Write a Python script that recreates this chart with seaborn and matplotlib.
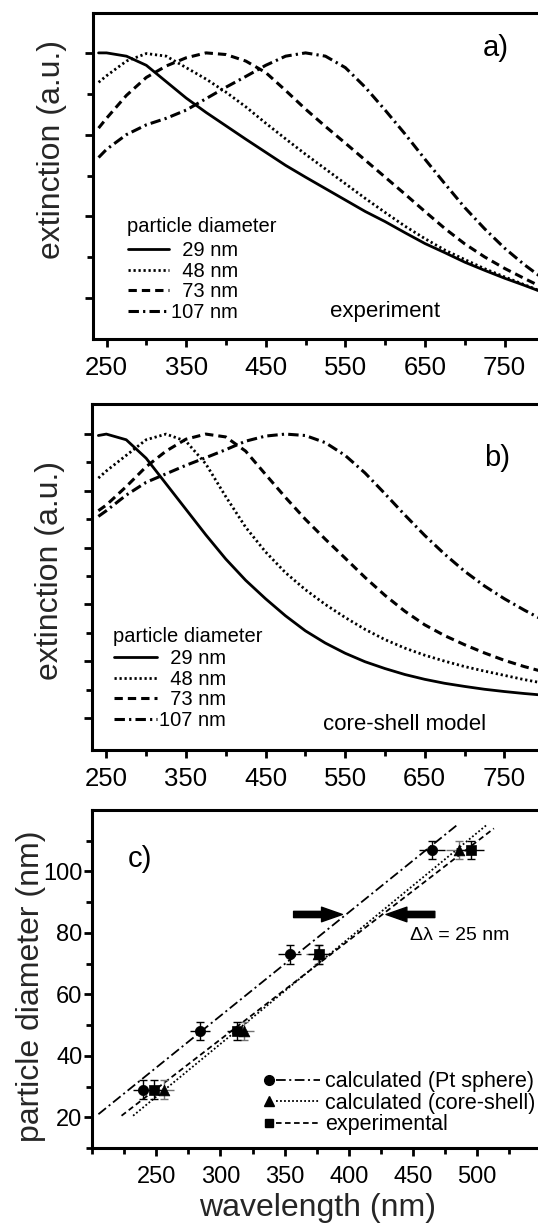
import matplotlib
matplotlib.use("Agg")
import matplotlib.pyplot as plt
import seaborn as sns
from matplotlib.ticker import FixedLocator, NullFormatter
from matplotlib.legend_handler import HandlerBase
from matplotlib.lines import Line2D

# ---------------- data ----------------
wavelength = [240, 250, 275, 300, 325, 350, 375, 400, 425, 450, 475, 500, 525,
              550, 575, 600, 625, 650, 675, 700, 725, 750, 775, 800, 825, 850]

diam_labels = ["  29 nm", "  48 nm", "  73 nm", "107 nm"]

# panel a: experiment (normalised extinction)
exp_29 = [1.0, 1.0, 0.99, 0.962, 0.912, 0.862, 0.818, 0.777, 0.736, 0.696, 0.656, 0.62, 0.585,
          0.55, 0.515, 0.484, 0.45, 0.417, 0.389, 0.36, 0.335, 0.311, 0.289, 0.266, 0.245, 0.225]
exp_48 = [0.91, 0.93, 0.975, 0.998, 0.99, 0.955, 0.92, 0.88, 0.835, 0.785, 0.737, 0.69, 0.645,
          0.60, 0.555, 0.512, 0.47, 0.432, 0.397, 0.368, 0.34, 0.315, 0.291, 0.267, 0.245, 0.225]
exp_73 = [0.77, 0.80, 0.87, 0.925, 0.96, 0.985, 1.0, 0.995, 0.975, 0.94, 0.885, 0.828, 0.775,
          0.724, 0.672, 0.62, 0.568, 0.515, 0.463, 0.416, 0.376, 0.341, 0.31, 0.28, 0.255, 0.23]
exp_107 = [0.68, 0.705, 0.75, 0.78, 0.80, 0.825, 0.86, 0.895, 0.928, 0.962, 0.99, 1.0, 0.99,
           0.955, 0.895, 0.825, 0.752, 0.675, 0.60, 0.527, 0.462, 0.403, 0.352, 0.307, 0.27, 0.24]

# panel b: core-shell model (normalised extinction)
cs_29 = [0.995, 1.0, 0.98, 0.915, 0.825, 0.735, 0.645, 0.56, 0.485, 0.42, 0.36, 0.307, 0.264,
         0.228, 0.198, 0.174, 0.153, 0.136, 0.122, 0.111, 0.101, 0.093, 0.086, 0.08, 0.075, 0.07]
cs_48 = [0.845, 0.87, 0.925, 0.98, 1.0, 0.975, 0.895, 0.78, 0.672, 0.585, 0.512, 0.452, 0.40,
         0.354, 0.312, 0.276, 0.246, 0.221, 0.2, 0.181, 0.165, 0.15, 0.135, 0.122, 0.11, 0.10]
cs_73 = [0.73, 0.75, 0.815, 0.885, 0.94, 0.982, 1.0, 0.99, 0.94, 0.858, 0.777, 0.70, 0.63,
         0.563, 0.495, 0.432, 0.376, 0.328, 0.29, 0.258, 0.229, 0.203, 0.181, 0.162, 0.145, 0.13]
cs_107 = [0.71, 0.73, 0.785, 0.83, 0.86, 0.89, 0.917, 0.945, 0.975, 0.993, 1.0, 0.995, 0.97,
          0.925, 0.863, 0.79, 0.715, 0.643, 0.577, 0.517, 0.465, 0.42, 0.38, 0.343, 0.31, 0.28]

# panel c: peak wavelength vs particle diameter
diameter = [29, 48, 73, 107]
peak_pt_sphere = [240, 284, 354, 465]
peak_core_shell = [256, 318, 376, 486]
peak_experiment = [248, 313, 377, 495]
err_wavelength = [8, 8, 9, 10]
err_diameter = [3, 3, 3, 3]

fit_pt_x = [205, 484]
fit_pt_y = [21, 115]
fit_cs_x = [232, 507]
fit_cs_y = [20.5, 115]
fit_exp_x = [223, 513]
fit_exp_y = [20.5, 114]

c_legend_labels = ["calculated (Pt sphere)", "calculated (core-shell)", "experimental"]

ab_xticks = [250, 350, 450, 550, 650, 750]
ab_xminor = [300, 400, 500, 600, 700, 800]
c_xticks = [250, 300, 350, 400, 450, 500]
c_yticks = [20, 40, 60, 80, 100]

# ---------------- style ----------------
sns.set_theme(style="ticks")
plt.rcParams["font.family"] = ["Liberation Sans", "DejaVu Sans"]
plt.rcParams["lines.scale_dashes"] = False
plt.rcParams["axes.linewidth"] = 2.2
plt.rcParams["axes.edgecolor"] = "black"
plt.rcParams["xtick.color"] = "black"
plt.rcParams["ytick.color"] = "black"
plt.rcParams["text.color"] = "black"

LS = ["-", (0, (1.6, 2.0)), (0, (6, 3.6)), (0, (7.5, 3, 1.6, 3))]
LW = [2.0, 2.0, 2.2, 2.2]

fig = plt.figure(figsize=(5.38, 12.28), dpi=100)
W, H = 538.0, 1228.0

ax_a = fig.add_axes([93 / W, 1 - 339 / H, (850 - 233) * 0.796 / W, 326 / H])
ax_b = fig.add_axes([92 / W, 1 - 750 / H, (850 - 232) * 0.796 / W, 346 / H])
ax_c = fig.add_axes([92 / W, 1 - 1148 / H, (560 - 200) * 1.284 / W, 338 / H])


def style_spectrum_axes(ax, xlim, ylim, yt_major, yt_minor):
    ax.set_xlim(*xlim)
    ax.set_ylim(*ylim)
    ax.xaxis.set_major_locator(FixedLocator(ab_xticks))
    ax.xaxis.set_minor_locator(FixedLocator(ab_xminor))
    ax.yaxis.set_major_locator(FixedLocator(yt_major))
    ax.yaxis.set_minor_locator(FixedLocator(yt_minor))
    ax.yaxis.set_major_formatter(NullFormatter())
    ax.tick_params(which="major", direction="out", length=6, width=2.0,
                   labelsize=18.5, pad=6)
    ax.tick_params(which="minor", direction="out", length=4, width=2.0)
    for s in ax.spines.values():
        s.set_linewidth(2.2)
    ax.set_xlabel("")
    ax.set_ylabel("extinction (a.u.)", fontsize=23)


def draw_spectra(ax, series):
    lines = []
    for vals, ls, lw in zip(series, LS, LW):
        sns.lineplot(x=wavelength, y=vals, ax=ax, color="black", linewidth=lw,
                     linestyle=ls, legend=False)
        lines.append(ax.lines[-1])
    return lines


LEG_KW = dict(loc="upper left", frameon=False, fontsize=14.5, handletextpad=0.1,
              labelspacing=0.08, borderpad=0, borderaxespad=0)

# ---------- panel a ----------
lines_a = draw_spectra(ax_a, [exp_29, exp_48, exp_73, exp_107])
style_spectrum_axes(ax_a, (233, 850), (0.125, 1.122),
                    [0.25, 0.5, 0.75, 1.0], [0.375, 0.625, 0.875])
ax_a.yaxis.set_label_coords(-0.053, 0.58)
ax_a.text(0.069, 0.344, "particle diameter", transform=ax_a.transAxes, fontsize=14.5,
          va="center")
ax_a.legend(lines_a, diam_labels, bbox_to_anchor=(0.071, 0.300), handlelength=2.05, **LEG_KW)
ax_a.text(0.793, 0.893, "a)", transform=ax_a.transAxes, fontsize=21, va="center")
ax_a.text(0.482, 0.083, "experiment", transform=ax_a.transAxes, fontsize=16, va="center")

# ---------- panel b ----------
lines_b = draw_spectra(ax_b, [cs_29, cs_48, cs_73, cs_107])
style_spectrum_axes(ax_b, (232, 850), (-0.113, 1.106),
                    [0.0, 0.2, 0.4, 0.6, 0.8, 1.0], [0.1, 0.3, 0.5, 0.7, 0.9])
ax_b.yaxis.set_label_coords(-0.055, 0.52)
ax_b.text(0.043, 0.329, "particle diameter", transform=ax_b.transAxes, fontsize=14.5,
          va="center")
ax_b.legend(lines_b, diam_labels, bbox_to_anchor=(0.045, 0.292), handlelength=2.15, **LEG_KW)
ax_b.text(0.797, 0.844, "b)", transform=ax_b.transAxes, fontsize=21, va="center")
ax_b.text(0.47, 0.075, "core-shell model", transform=ax_b.transAxes, fontsize=16,
          va="center")

# ---------- panel c ----------
fit_specs = [(fit_pt_x, fit_pt_y, (0, (7, 2.5, 1.5, 2.5))),
             (fit_cs_x, fit_cs_y, (0, (1.3, 1.6))),
             (fit_exp_x, fit_exp_y, (0, (4, 2.5)))]
fit_lines = []
for fx, fy, ls in fit_specs:
    sns.lineplot(x=fx, y=fy, ax=ax_c, color="black", linewidth=1.3, linestyle=ls,
                 legend=False)
    fit_lines.append(ax_c.lines[-1])

point_sets = [(peak_pt_sphere, "o", "black", 55),
              (peak_core_shell, "^", "0.45", 60),
              (peak_experiment, "s", "black", 45)]
for px, mk, ecol, size in point_sets:
    ax_c.errorbar(px, diameter, yerr=err_diameter, fmt="none", ecolor=ecol,
                  elinewidth=1.0, capsize=3, capthick=1.0, zorder=3)
    ax_c.errorbar(px, diameter, xerr=err_wavelength, fmt="none", ecolor=ecol,
                  elinewidth=1.0, capsize=0, zorder=3)
    sns.scatterplot(x=px, y=diameter, ax=ax_c, marker=mk, color="black", s=size,
                    edgecolor="black", linewidth=0.5, zorder=4, legend=False)

ax_c.set_xlim(200, 560)
ax_c.set_ylim(10, 120)
ax_c.xaxis.set_major_locator(FixedLocator(c_xticks))
ax_c.xaxis.set_minor_locator(FixedLocator([200, 225, 275, 325, 375, 425, 475, 525]))
ax_c.yaxis.set_major_locator(FixedLocator(c_yticks))
ax_c.yaxis.set_minor_locator(FixedLocator([10, 30, 50, 70, 90, 110]))
ax_c.tick_params(which="major", direction="out", length=6, width=2.0, labelsize=17)
ax_c.tick_params(axis="x", which="major", pad=7)
ax_c.tick_params(axis="y", which="major", pad=1)
ax_c.tick_params(which="minor", direction="out", length=4, width=2.0)
for s in ax_c.spines.values():
    s.set_linewidth(2.2)
ax_c.set_xlabel("wavelength (nm)", fontsize=23)
ax_c.set_ylabel("particle diameter (nm)", fontsize=23)
ax_c.xaxis.set_label_coords(0.489, -0.133)
ax_c.yaxis.set_label_coords(-0.1, 0.48)

ax_c.text(228, 104, "c)", fontsize=21, va="center")
ax_c.text(448, 79.0, "Δλ = 25 nm", fontsize=14, va="center")

arrow_y = 86
arrow_right = (357, 395)
arrow_left = (467, 429)
astyle = "simple,head_length=1.0,head_width=0.7,tail_width=0.3"
ax_c.annotate("", xy=(arrow_right[1], arrow_y), xytext=(arrow_right[0], arrow_y),
              arrowprops=dict(arrowstyle=astyle, color="black", mutation_scale=15,
                              shrinkA=0, shrinkB=0))
ax_c.annotate("", xy=(arrow_left[1], arrow_y), xytext=(arrow_left[0], arrow_y),
              arrowprops=dict(arrowstyle=astyle, color="black", mutation_scale=15,
                              shrinkA=0, shrinkB=0))


class MarkerThenLine(HandlerBase):
    def create_artists(self, legend, orig_handle, xdescent, ydescent, width, height,
                       fontsize, trans):
        mk, ln = orig_handle
        y = height / 2.0 - ydescent
        x0 = -xdescent
        m = Line2D([x0 + 0.08 * width], [y])
        m.update_from(mk)
        m.set_linestyle("none")
        l = Line2D([x0 + 0.22 * width, x0 + width], [y, y])
        l.update_from(ln)
        l.set_marker("None")
        m.set_transform(trans)
        l.set_transform(trans)
        return [l, m]


marker_proxies = [Line2D([], [], marker="o", linestyle="none", color="black", markersize=7),
                  Line2D([], [], marker="^", linestyle="none", color="black", markersize=7),
                  Line2D([], [], marker="s", linestyle="none", color="black", markersize=6)]
c_handles = [(mp, fl) for mp, fl in zip(marker_proxies, fit_lines)]
ax_c.legend(c_handles, c_legend_labels, handler_map={tuple: MarkerThenLine()},
            loc="upper left", bbox_to_anchor=(334, 35.0),
            bbox_transform=ax_c.transData, frameon=False, fontsize=15.5,
            handlelength=2.6, handletextpad=0.25, labelspacing=0.02,
            borderpad=0, borderaxespad=0)

fig.savefig("out.png", dpi=100)
